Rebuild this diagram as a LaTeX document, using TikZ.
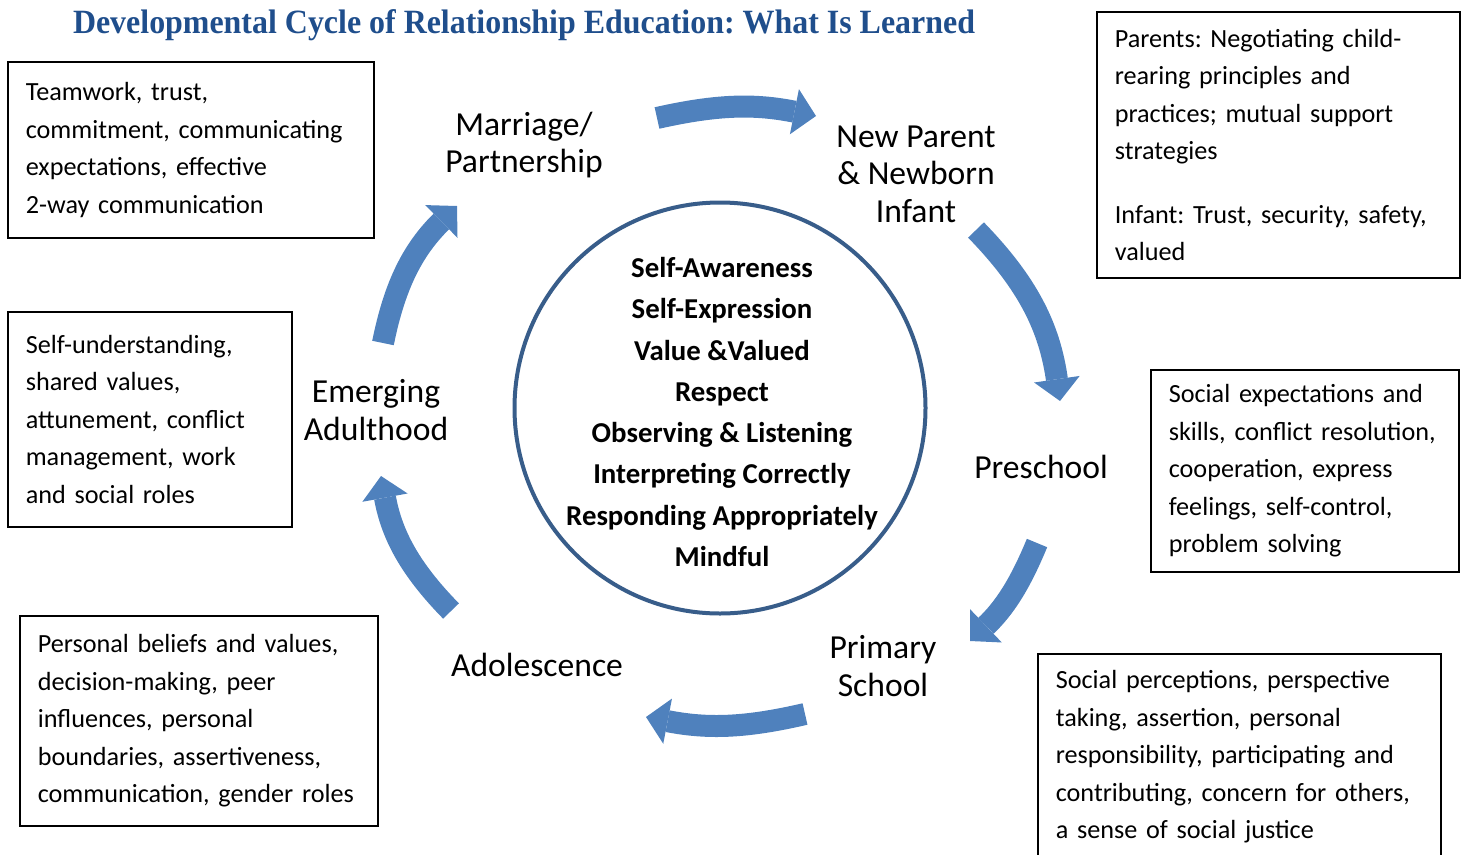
\documentclass[tikz,border=0pt]{standalone}
\usepackage{fontspec}
\usepackage{graphicx}
\setmainfont{Carlito}
\newfontfamily\titlefont{Liberation Serif}
\usetikzlibrary{arrows.meta,positioning}
\definecolor{arrowblue}{HTML}{4F81BD}
\definecolor{ringblue}{HTML}{385D8A}
\definecolor{titleblue}{HTML}{1F4E8C}
\frenchspacing

\begin{document}
\begin{tikzpicture}
  [x=1pt,y=-1pt,
  infobox/.style={draw, line width=1.6pt, align=left, anchor=north west,
    inner xsep=18pt, inner ysep=0pt,
    font=\fontsize{26.2}{37.5}\selectfont},
  stage/.style={align=center, font=\fontsize{33.6}{37.5}\selectfont},
  ring/.style={circle, draw=ringblue, line width=4pt, minimum size=411pt,
    inner sep=0pt},
  keys/.style={align=center, inner sep=0pt,
    font=\fontsize{28.8}{41.3}\selectfont\bfseries},
  bigarrow/.style={draw=arrowblue, line width=22pt,
    -{Triangle[width=46pt,length=22pt,line width=0pt]}}]
  \useasboundingbox (0,0) rectangle (1463,854);
  % title
  \node[text=titleblue] (title) at (524,25)
  {\resizebox{902pt}{\height}{\titlefont\bfseries\fontsize{34}{40}\selectfont
      Developmental Cycle of Relationship Education: What Is Learned}};
  % centre
  \node[ring] (core) at (720,408) {};
  \node[keys] (keylist) at (722,412) {Self-Awareness\\ Self-Expression\\
    Value \&Valued\\ Respect\\ Observing \& Listening\\
    Interpreting Correctly\\ Responding Appropriately\\ Mindful};
  % stages
  \node[stage] (marriage) at (524,145) {Marriage/\\Partnership};
  \node[stage] (newparent) at (916,174) {New Parent\\\& Newborn\\Infant};
  \node[stage] (preschool) at (1041,467) {Preschool};
  \node[stage] (primary) at (883,666) {Primary\\School};
  \node[stage] (adolescence) at (537,665) {Adolescence};
  \node[stage] (emerging) at (376,410) {Emerging\\Adulthood};
  % boxes
  \node[infobox, minimum width=366pt, minimum height=176pt, text width=330pt]
  (couplebox) at (7,61) {Teamwork, trust,\\ commitment, communicating\\
    expectations, effective\\ 2-way communication};
  \node[infobox, minimum width=284pt, minimum height=215pt, text width=248pt]
  (adultbox) at (7,311) {Self-understanding,\\ shared values,\\
    attunement, conflict\\ management, work\\ and social roles};
  \node[infobox, minimum width=358pt, minimum height=210pt, text width=322pt]
  (teenbox) at (19,615) {Personal beliefs and values,\\ decision-making, peer\\
    influences, personal\\ boundaries, assertiveness,\\
    communication, gender roles};
  \node[infobox, minimum width=363pt, minimum height=266pt, text width=327pt]
  (parentbox) at (1096,11) {Parents: Negotiating child-\\ rearing principles and\\
    practices; mutual support\\ strategies\\[26pt]
    Infant: Trust, security, safety,\\ valued};
  \node[infobox, minimum width=308pt, minimum height=202pt, text width=272pt]
  (preschoolbox) at (1150,369) {Social expectations and\\
    skills, conflict resolution,\\ cooperation, express\\
    feelings, self-control,\\ problem solving};
  \node[infobox, minimum width=403pt, minimum height=206pt, text width=367pt]
  (schoolbox) at (1037,653) {Social perceptions, perspective\\
    taking, assertion, personal\\ responsibility, participating and\\
    contributing, concern for others,\\ a sense of social justice};
  % arrows
  \coordinate (a1) at (657,118); \coordinate (b1) at (816,116);
  \coordinate (a2) at (976,230); \coordinate (b2) at (1060,401);
  \coordinate (a3) at (1037,543); \coordinate (b3) at (970,641);
  \coordinate (a4) at (805,714); \coordinate (b4) at (646,717);
  \coordinate (a5) at (451,611); \coordinate (b5) at (381,476);
  \coordinate (a6) at (383,343); \coordinate (b6) at (457,206);
  \draw[bigarrow] (a1) to[bend left=12] (b1);
  \draw[bigarrow] (a2) to[bend left=18] (b2);
  \draw[bigarrow] (a3) to[bend left=12] (b3);
  \draw[bigarrow] (a4) to[bend left=12] (b4);
  \draw[bigarrow] (a5) to[bend left=17] (b5);
  \draw[bigarrow] (a6) to[bend left=17] (b6);
\end{tikzpicture}
\end{document}
